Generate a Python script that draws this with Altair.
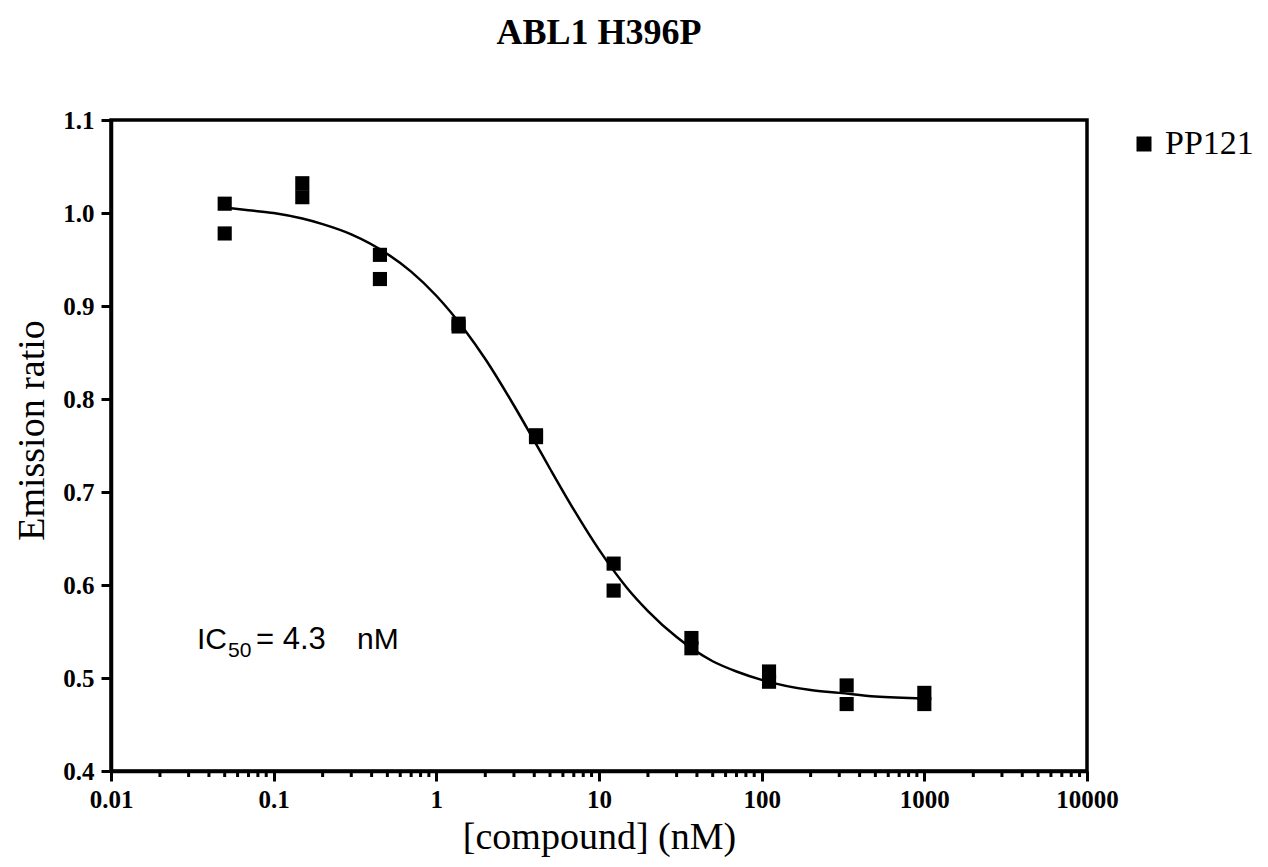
import altair as alt
import pandas as pd

# ---- data ----
conc = [0.05, 0.05, 0.15, 0.15, 0.45, 0.45, 1.37, 1.37, 4.1, 4.1,
        12.3, 12.3, 37, 37, 111, 111, 333, 333, 1000, 1000]
ratio = [1.010, 0.978, 1.032, 1.017, 0.955, 0.929, 0.881, 0.878, 0.761, 0.759,
         0.623, 0.594, 0.543, 0.532, 0.507, 0.496, 0.492, 0.472, 0.484, 0.472]
series_name = "PP121"

curve_x = [0.05, 0.07, 0.1, 0.15, 0.2, 0.3, 0.5, 0.7, 1, 1.5, 2, 3, 4, 5, 7,
           10, 15, 20, 30, 50, 70, 100, 200, 300, 500, 1000]
curve_y = [1.006, 1.003, 1.000, 0.994, 0.988, 0.977, 0.956, 0.937, 0.911, 0.874,
           0.843, 0.793, 0.755, 0.725, 0.681, 0.638, 0.596, 0.572, 0.544, 0.518,
           0.507, 0.498, 0.487, 0.484, 0.480, 0.478]

x_major = [0.01, 0.1, 1, 10, 100, 1000, 10000]
x_minor = [m * d for d in [0.01, 0.1, 1, 10, 100, 1000] for m in range(2, 10)]
y_ticks = [0.4, 0.5, 0.6, 0.7, 0.8, 0.9, 1.0, 1.1]

title_text = "ABL1 H396P"
x_title = "[compound] (nM)"
y_title = "Emission ratio"
ann_main = ["IC"]
ann_sub = ["50"]
ann_val = ["= 4.3"]
ann_unit = ["nM"]

W, H = 976, 651
SERIF = "Liberation Serif"
SANS = "Liberation Sans"

pts = pd.DataFrame({"conc": conc, "ratio": ratio, "series": [series_name] * len(conc)})
crv = pd.DataFrame({"conc": curve_x, "ratio": curve_y})
minor = pd.DataFrame({"v": x_minor})

xscale = alt.Scale(type="log", domain=[0.01, 10000])
yscale = alt.Scale(domain=[0.4, 1.1], zero=False, nice=False)

xaxis = alt.Axis(values=x_major, format="~g", title=x_title, titleY=77,
                 titleFontSize=38, titleBaseline="alphabetic", labelPadding=6,
                 labelFlush=False)
yaxis = alt.Axis(values=y_ticks, format=".1f", title=y_title, titleX=-68,
                 titleY=310, titleAngle=270, titleBaseline="alphabetic",
                 titleAlign="center", labelPadding=7)

points = alt.Chart(pts).mark_point(shape="square", filled=True, size=200, opacity=1).encode(
    x=alt.X("conc:Q", scale=xscale, axis=xaxis),
    y=alt.Y("ratio:Q", scale=yscale, axis=yaxis),
    color=alt.Color("series:N", scale=alt.Scale(range=["black"]),
                    legend=alt.Legend(title=None, orient="none", legendX=1016, legendY=7,
                                      symbolType="square", symbolSize=225,
                                      symbolFillColor="black", symbolStrokeWidth=0,
                                      labelFont=SERIF, labelFontSize=34,
                                      labelColor="black", labelOffset=4, padding=0)),
)

curve = alt.Chart(crv).mark_line(color="black", strokeWidth=2.5, interpolate="monotone").encode(
    x=alt.X("conc:Q", scale=xscale),
    y=alt.Y("ratio:Q", scale=yscale),
)

minor_ticks = alt.Chart(minor).mark_rule(color="black", strokeWidth=3).encode(
    x=alt.X("v:Q", scale=xscale),
    y=alt.value(H),
    y2=alt.value(H + 6),
)

def text_layer(vals, x, y, size):
    return alt.Chart(pd.DataFrame({"t": vals})).mark_text(
        font=SANS, fontSize=size, align="left", baseline="alphabetic", color="black"
    ).encode(x=alt.value(x), y=alt.value(y), text="t:N")

ann = (text_layer(ann_main, 86, 529, 30) + text_layer(ann_sub, 117, 537, 21)
       + text_layer(ann_val, 145, 529, 31) + text_layer(ann_unit, 246, 529, 30))

chart = alt.layer(minor_ticks, curve, points, ann).properties(
    width=W, height=H,
    title=alt.TitleParams(title_text, font=SERIF, fontSize=36, fontWeight="bold",
                          anchor="middle", color="black", offset=56),
    autosize=alt.AutoSizeParams(type="none"),
    padding={"left": 103, "top": 112, "right": 173, "bottom": 88},
).configure_view(
    stroke="black", strokeWidth=3.5
).configure_axis(
    grid=False, domainColor="black", domainWidth=3.5, tickColor="black",
    tickWidth=3, tickSize=10, labelFont=SERIF, labelFontWeight="bold",
    labelFontSize=25, labelColor="black", titleFont=SERIF, titleFontSize=38,
    titleFontWeight="normal", titleColor="black"
)

chart.save("out.html", embed_options={"renderer": "svg", "actions": False})
